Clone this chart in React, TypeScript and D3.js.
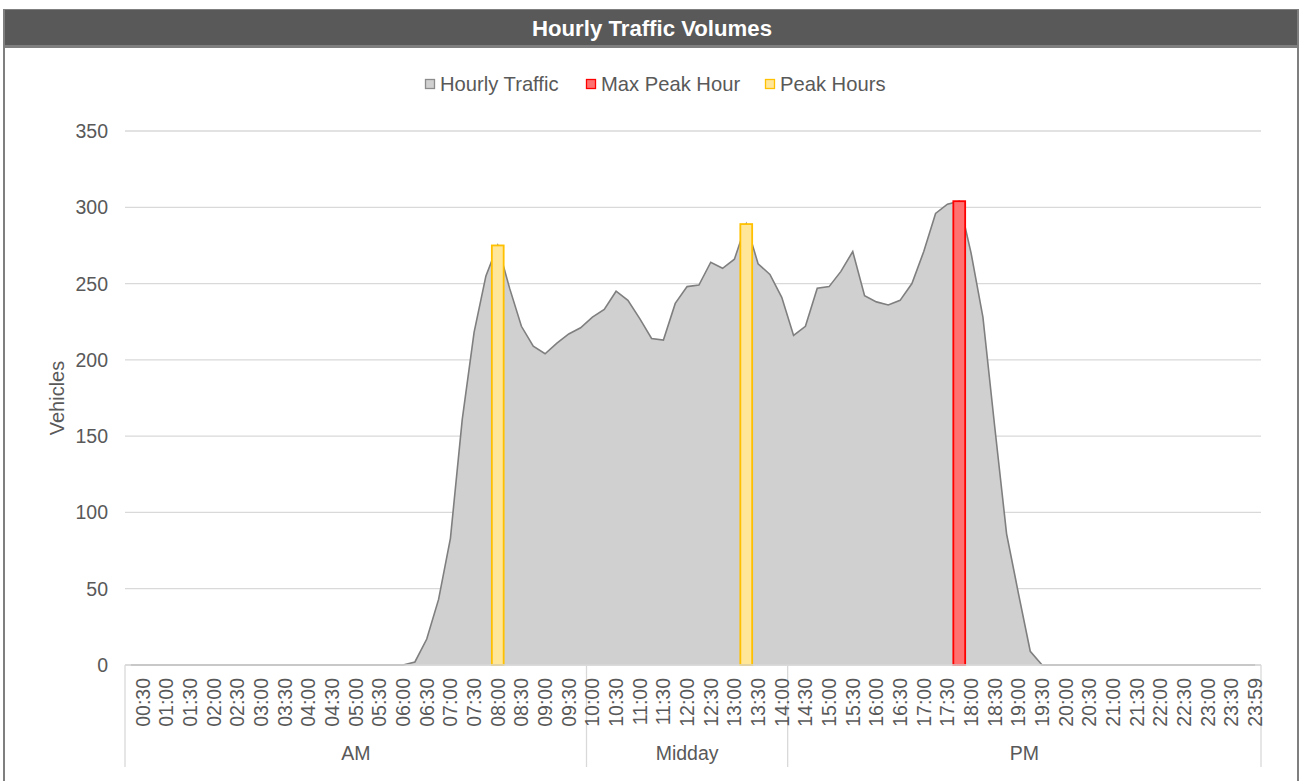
import React from "react";
import * as d3 from "d3";

// 15-minute categories (hourly rolling volume reported at each quarter hour)
const times = [
  "00:15", "00:30", "00:45", "01:00", "01:15", "01:30", "01:45", "02:00",
  "02:15", "02:30", "02:45", "03:00", "03:15", "03:30", "03:45", "04:00",
  "04:15", "04:30", "04:45", "05:00", "05:15", "05:30", "05:45", "06:00",
  "06:15", "06:30", "06:45", "07:00", "07:15", "07:30", "07:45", "08:00",
  "08:15", "08:30", "08:45", "09:00", "09:15", "09:30", "09:45", "10:00",
  "10:15", "10:30", "10:45", "11:00", "11:15", "11:30", "11:45", "12:00",
  "12:15", "12:30", "12:45", "13:00", "13:15", "13:30", "13:45", "14:00",
  "14:15", "14:30", "14:45", "15:00", "15:15", "15:30", "15:45", "16:00",
  "16:15", "16:30", "16:45", "17:00", "17:15", "17:30", "17:45", "18:00",
  "18:15", "18:30", "18:45", "19:00", "19:15", "19:30", "19:45", "20:00",
  "20:15", "20:30", "20:45", "21:00", "21:15", "21:30", "21:45", "22:00",
  "22:15", "22:30", "22:45", "23:00", "23:15", "23:30", "23:45", "23:59",
];

const hourlyTraffic = [
  0, 0, 0, 0, 0, 0, 0, 0,
  0, 0, 0, 0, 0, 0, 0, 0,
  0, 0, 0, 0, 0, 0, 0, 0,
  2, 17, 43, 83, 161, 218, 255, 275,
  247, 222, 209, 204, 211, 217, 221, 228,
  233, 245, 239, 227, 214, 213, 237, 248,
  249, 264, 260, 266, 289, 263, 256, 241,
  216, 222, 247, 248, 258, 271, 242, 238,
  236, 239, 250, 271, 296, 302, 304, 270,
  228, 156, 86, 47, 9, 0, 0, 0,
  0, 0, 0, 0, 0, 0, 0, 0,
  0, 0, 0, 0, 0, 0, 0, 0,
];

const peakHours = ["08:00", "13:15"];
const peakHourValues = [275, 289];
const maxPeakHour = ["17:45"];
const maxPeakValues = [304];

const periods = ["AM", "Midday", "PM"];
const periodFirst = ["00:15", "10:00", "14:15"];

const yTicks = [0, 50, 100, 150, 200, 250, 300, 350];

const legendItems = [
  { label: "Hourly Traffic", fill: "#d0d0d0", stroke: "#8c8c8c", x: 425 },
  { label: "Max Peak Hour", fill: "#ff7171", stroke: "#ff0000", x: 586 },
  { label: "Peak Hours", fill: "#ffe699", stroke: "#ffc000", x: 765 },
];

const W = 1301;
const H = 781;
const FONT = '"Liberation Sans", Arial, Helvetica, sans-serif';
const TEXT = "#595959";
const GRID = "#d9d9d9";

const App: React.FC = () => {
  const left = 125;
  const right = 1261;
  const top = 131;
  const bottom = 665;

  const x = d3.scaleBand<string>().domain(times).range([left, right]).padding(0);
  const y = d3.scaleLinear().domain([0, 350]).range([bottom, top]);
  const bw = x.bandwidth();
  const cx = (t: string) => (x(t) ?? 0) + bw / 2;

  const area = d3
    .area<number>()
    .x((_, i) => cx(times[i]))
    .y0(y(0))
    .y1((d) => y(d));
  const line = d3
    .line<number>()
    .x((_, i) => cx(times[i]))
    .y((d) => y(d));

  const dividers = periodFirst.map((t) => x(t) ?? 0).concat([right]);

  return (
    <svg
      width={W}
      height={H}
      style={{ position: "absolute", left: 0, top: 0, fontFamily: FONT }}
    >
      {/* frame and title band */}
      <rect x={3} y={9} width={1296} height={800} fill="#7f7f7f" />
      <rect x={5} y={48} width={1292} height={760} fill="#ffffff" />
      <rect x={5} y={10} width={1292} height={35} fill="#595959" />
      <text
        x={652}
        y={28}
        textAnchor="middle"
        dominantBaseline="central"
        fill="#ffffff"
        fontWeight="bold"
        fontSize={22.2}
      >
        Hourly Traffic Volumes
      </text>

      {/* legend */}
      {legendItems.map((d) => (
        <g key={d.label}>
          <rect x={d.x + 0.5} y={79.5} width={9} height={9} fill={d.fill} stroke={d.stroke} strokeWidth={1.3} />
          <text x={d.x + 15} y={84} dominantBaseline="central" fontSize={20.2} fill={TEXT}>
            {d.label}
          </text>
        </g>
      ))}

      {/* grid + y ticks */}
      {yTicks.map((t) => (
        <g key={t}>
          <line x1={left} x2={right} y1={y(t)} y2={y(t)} stroke={GRID} strokeWidth={1.3} />
          <text x={108} y={y(t)} textAnchor="end" dominantBaseline="central" fontSize={19.5} fill={TEXT}>
            {t}
          </text>
        </g>
      ))}
      <text
        transform={`translate(57,${(top + bottom) / 2}) rotate(-90)`}
        textAnchor="middle"
        dominantBaseline="central"
        fontSize={20}
        fill={TEXT}
      >
        Vehicles
      </text>

      {/* area */}
      <path d={area(hourlyTraffic) ?? ""} fill="#d0d0d0" />
      <path d={line(hourlyTraffic) ?? ""} fill="none" stroke="#7f7f7f" strokeWidth={1.6} />

      {/* peak bars */}
      {peakHours.map((t, i) => (
        <rect
          key={t}
          x={x(t)}
          y={y(peakHourValues[i])}
          width={bw}
          height={y(0) - y(peakHourValues[i])}
          fill="#ffe699"
          stroke="#ffc000"
          strokeWidth={1.8}
        />
      ))}
      {maxPeakHour.map((t, i) => (
        <rect
          key={t}
          x={x(t)}
          y={y(maxPeakValues[i])}
          width={bw}
          height={y(0) - y(maxPeakValues[i])}
          fill="#ff7171"
          stroke="#ff0000"
          strokeWidth={1.8}
        />
      ))}

      {/* x axis */}
      <line x1={left} x2={right} y1={bottom} y2={bottom} stroke={GRID} strokeWidth={1.3} />
      {dividers.map((dx, i) => (
        <line key={i} x1={dx} x2={dx} y1={bottom} y2={767} stroke={GRID} strokeWidth={1.3} />
      ))}
      {times
        .filter((_, i) => i % 2 === 1)
        .map((t) => (
          <text
            key={t}
            transform={`translate(${cx(t)},678) rotate(-90)`}
            textAnchor="end"
            dy="0.35em"
            fontSize={19.5}
            fill={TEXT}
          >
            {t}
          </text>
        ))}
      {periods.map((p, i) => (
        <text
          key={p}
          x={(dividers[i] + dividers[i + 1]) / 2}
          y={753}
          textAnchor="middle"
          dominantBaseline="central"
          fontSize={19.5}
          fill={TEXT}
        >
          {p}
        </text>
      ))}
    </svg>
  );
};

export default App;
